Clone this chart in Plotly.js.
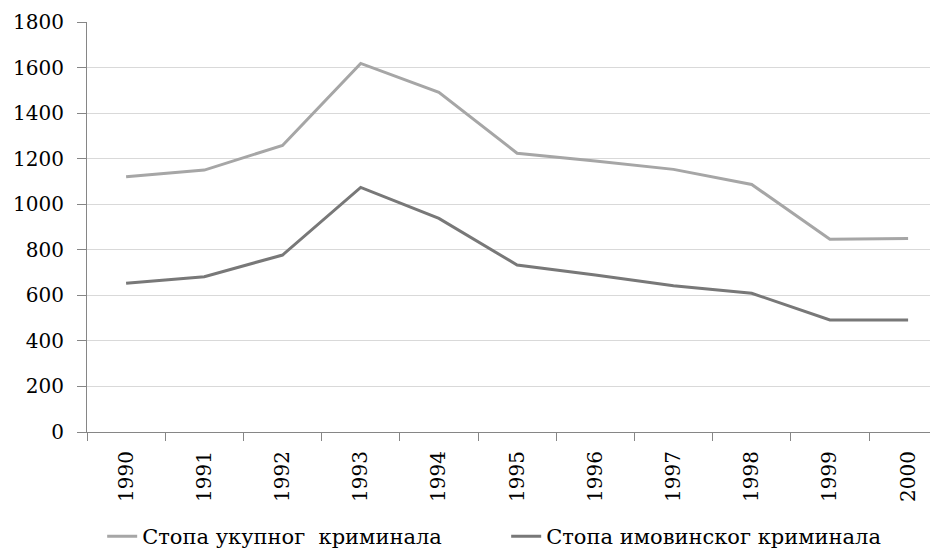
<!DOCTYPE html>
<html>
<head>
<meta charset="utf-8">
<script src="https://cdn.plot.ly/plotly-3.0.1.min.js"></script>
<style>html,body{margin:0;padding:0;background:#fff}#chart{width:930px;height:557px}</style>
</head>
<body>
<div id="chart"></div>
<script>
var years = ['1990','1991','1992','1993','1994','1995','1996','1997','1998','1999','2000'];
var totalCrime = [1121, 1150, 1258, 1618, 1491, 1224, 1190, 1153, 1087, 846, 850];
var propertyCrime = [653, 682, 777, 1074, 938, 733, 689, 642, 609, 492, 492];
var seriesNames = ['Стопа укупног  криминала', 'Стопа имовинског криминала'];

var font = 'DejaVu Serif';
var traces = [
  {x: years, y: totalCrime, name: seriesNames[0], type: 'scatter', mode: 'lines',
   line: {color: '#a6a6a6', width: 3}},
  {x: years, y: propertyCrime, name: seriesNames[1], type: 'scatter', mode: 'lines',
   line: {color: '#787878', width: 3}}
];
var layout = {
  width: 930, height: 557,
  margin: {l: 87, r: 0, t: 22, b: 125},
  paper_bgcolor: '#fff', plot_bgcolor: '#fff',
  font: {family: font, size: 20, color: '#000'},
  showlegend: true,
  legend: {orientation: 'h', x: 0.018, xanchor: 'left', y: -0.255, yanchor: 'middle',
           font: {family: font, size: 21, color: '#000'}, entrywidth: 359, tracegroupgap: 0},
  xaxis: {type: 'category', range: [-0.5, 10.28], tickson: 'boundaries',
          showgrid: false, showline: true, linecolor: '#868686', linewidth: 1,
          ticks: 'outside', ticklen: 8, tickcolor: '#868686', tickangle: -90,
          tickfont: {family: font, size: 20, color: '#000'}, ticklabelstandoff: 10,
          zeroline: false, fixedrange: true, automargin: false},
  yaxis: {range: [0, 1800], dtick: 200, tick0: 0, showgrid: true, gridcolor: '#d9d9d9', gridwidth: 1,
          showline: true, linecolor: '#868686', linewidth: 1,
          ticks: 'outside', ticklen: 9, tickcolor: '#868686',
          tickfont: {family: font, size: 20, color: '#000'}, ticklabelstandoff: 9,
          zeroline: false, fixedrange: true, automargin: false}
};
Plotly.newPlot('chart', traces, layout, {displayModeBar: false, staticPlot: true});
</script>
</body>
</html>
